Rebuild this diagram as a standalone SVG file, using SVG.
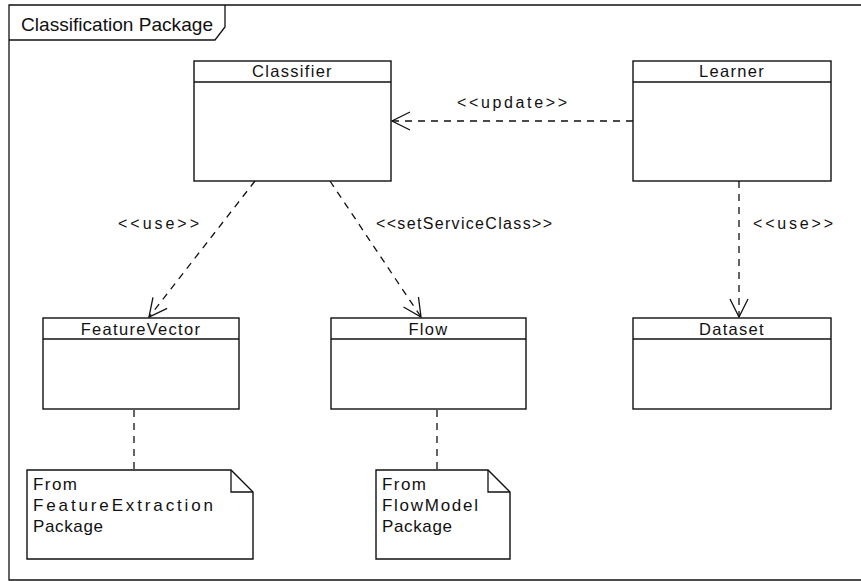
<svg xmlns="http://www.w3.org/2000/svg" width="861" height="581" viewBox="0 0 861 581">
  <style>
    .shape { fill: #ffffff; stroke: #111111; stroke-width: 1.4; }
    .line { fill: none; stroke: #111111; stroke-width: 1.3; }
    .dash { fill: none; stroke: #111111; stroke-width: 1.3; stroke-dasharray: 7 6; }
    .title { font-family: "Liberation Sans", Arial, sans-serif; font-size: 18.5px; fill: #111111; }
    .name { font-family: "Liberation Sans", Arial, sans-serif; font-size: 16.5px; fill: #111111; text-anchor: middle; letter-spacing: 1.3px; }
    .label { font-family: "Liberation Sans", Arial, sans-serif; font-size: 16px; fill: #111111; }
    .note { font-family: "Liberation Sans", Arial, sans-serif; font-size: 17px; fill: #111111; }
  </style>
  <defs>
    <marker id="open" viewBox="-20 -11 22 22" refX="0" refY="0" markerWidth="22" markerHeight="22" markerUnits="userSpaceOnUse" orient="auto">
      <path d="M -18 -9 L 0 0 L -18 9" fill="none" stroke="#111111" stroke-width="1.3" stroke-dasharray="none"/>
    </marker>
  </defs>

  <rect width="861" height="581" fill="#ffffff"/>

  <!-- package frame -->
  <g id="package">
    <path class="line" d="M 870 5 L 9 5 L 9 580 L 870 580"/>
    <path class="line" d="M 9 40 L 215 40 L 225 27 L 225 5"/>
    <text class="title" x="21" y="31" textLength="192" lengthAdjust="spacingAndGlyphs">Classification Package</text>
  </g>

  <!-- connectors -->
  <g id="connectors">
    <path class="dash" d="M 633 121 L 392 121" marker-end="url(#open)"/>
    <path class="dash" d="M 255 181 L 149 317" marker-end="url(#open)"/>
    <path class="dash" d="M 330 181 L 421 317" marker-end="url(#open)"/>
    <path class="dash" d="M 739 181 L 739 317" marker-end="url(#open)"/>
    <path class="dash" d="M 134 410 L 134 470"/>
    <path class="dash" d="M 437 410 L 437 470"/>
    <text class="label" x="457" y="108" textLength="110" lengthAdjust="spacing">&lt;&lt;update&gt;&gt;</text>
    <text class="label" x="118" y="229" textLength="81" lengthAdjust="spacing">&lt;&lt;use&gt;&gt;</text>
    <text class="label" x="376" y="229" textLength="176" lengthAdjust="spacing">&lt;&lt;setServiceClass&gt;&gt;</text>
    <text class="label" x="753" y="229" textLength="80" lengthAdjust="spacing">&lt;&lt;use&gt;&gt;</text>
  </g>

  <!-- classes -->
  <g id="classifier">
    <rect class="shape" x="194" y="61" width="197" height="120"/>
    <line class="line" x1="194" y1="82" x2="391" y2="82"/>
    <text class="name" x="292.5" y="77">Classifier</text>
  </g>
  <g id="learner">
    <rect class="shape" x="633" y="61" width="198" height="120"/>
    <line class="line" x1="633" y1="82" x2="831" y2="82"/>
    <text class="name" x="732" y="77">Learner</text>
  </g>
  <g id="featurevector">
    <rect class="shape" x="43" y="318" width="196" height="91"/>
    <line class="line" x1="43" y1="339" x2="239" y2="339"/>
    <text class="name" x="141" y="335">FeatureVector</text>
  </g>
  <g id="flow">
    <rect class="shape" x="331" y="318" width="195" height="91"/>
    <line class="line" x1="331" y1="339" x2="526" y2="339"/>
    <text class="name" x="428.5" y="335">Flow</text>
  </g>
  <g id="dataset">
    <rect class="shape" x="633" y="318" width="198" height="91"/>
    <line class="line" x1="633" y1="339" x2="831" y2="339"/>
    <text class="name" x="732" y="335">Dataset</text>
  </g>

  <!-- notes -->
  <g id="note-featureextraction">
    <path class="shape" d="M 27 470 L 231 470 L 253 492 L 253 559 L 27 559 Z"/>
    <path class="line" d="M 231 470 L 231 492 L 253 492"/>
    <text class="note" x="33" y="490" textLength="44" lengthAdjust="spacing">From</text>
    <text class="note" x="33" y="511" textLength="180" lengthAdjust="spacing">FeatureExtraction</text>
    <text class="note" x="33" y="532" textLength="70" lengthAdjust="spacing">Package</text>
  </g>
  <g id="note-flowmodel">
    <path class="shape" d="M 376 470 L 488 470 L 510 492 L 510 559 L 376 559 Z"/>
    <path class="line" d="M 488 470 L 488 492 L 510 492"/>
    <text class="note" x="382" y="490" textLength="44" lengthAdjust="spacing">From</text>
    <text class="note" x="382" y="511" textLength="96" lengthAdjust="spacing">FlowModel</text>
    <text class="note" x="382" y="532" textLength="70" lengthAdjust="spacing">Package</text>
  </g>
</svg>
